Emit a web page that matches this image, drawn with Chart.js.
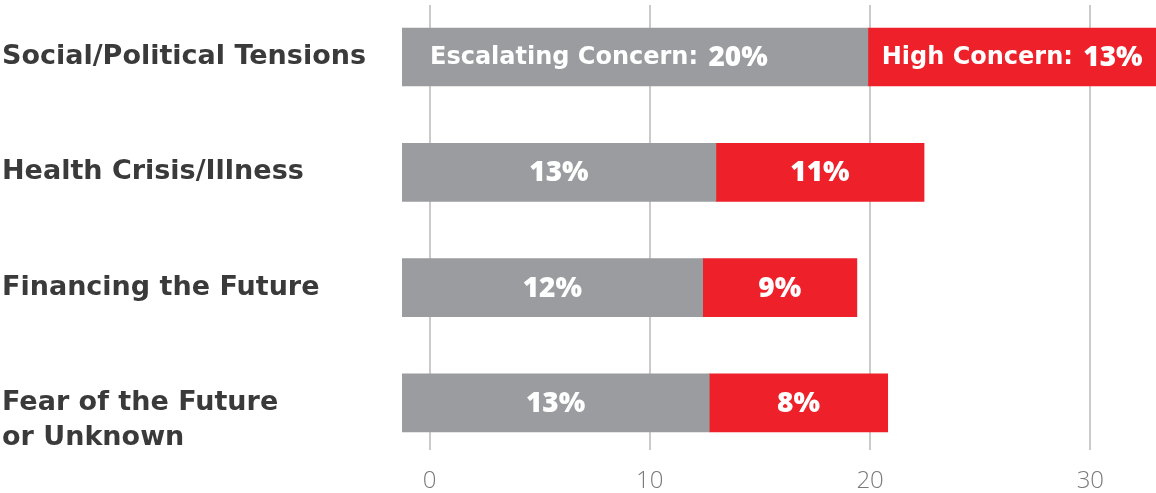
<!DOCTYPE html>
<html lang="en">
<head>
  <meta charset="UTF-8">
  <title>Concerns</title>
  <script src="https://cdn.jsdelivr.net/npm/chart.js"></script>
  <style>
    body { margin:0; background:#fff }
    .wrap { width:1156px; height:493px }
  </style>
</head>
<body>
  <div class="wrap"><canvas id="c" width="1156" height="493"></canvas></div>
  <script>
    // categories (last one wraps; blank first line keeps "Fear of the Future" level with its bar)
    const categories = [
      "Social/Political Tensions",
      "Health Crisis/Illness",
      "Financing the Future",
      ["", "Fear of the Future", "or Unknown"]
    ];
    // printed percentages
    const escalatingPct = [20, 13, 12, 13];
    const highPct = [13, 11, 9, 8];
    // bar extents as drawn, in axis units
    const barStart = -1.25;
    const escalatingEnd = [19.9, 13.0, 12.4, 12.7];
    const highEnd = [33.0, 22.45, 19.4, 20.8];
    const xTicks = [0, 10, 20, 30];

    const GREY = "#9b9c9f", RED = "#ee2029";
    const FONT = "'Open Sans', sans-serif";
    const WIDE = "'DejaVu Sans', sans-serif";

    const barLabels = {
      id: "barLabels",
      afterDatasetsDraw(chart) {
        const ctx = chart.ctx;
        ctx.save();
        ctx.fillStyle = "#fff";
        ctx.textBaseline = "middle";
        chart.data.datasets.forEach((ds, di) => {
          const meta = chart.getDatasetMeta(di);
          meta.data.forEach((bar, i) => {
            const cx = (bar.x + bar.base) / 2, cy = bar.y + 1;
            const val = ds.pct[i] + "%";
            ctx.font = "800 28px " + FONT;
            if (i === 0) {
              const pre = ds.label + ": ";
              const vw = ctx.measureText(val).width;
              ctx.font = "bold 24px " + WIDE;
              const pw = ctx.measureText(pre).width + 2;
              let x0 = cx - (pw + vw) / 2;
              if (di === 0) x0 = bar.base + 28;
              ctx.textAlign = "left";
              ctx.fillText(pre, x0, cy);
              ctx.font = "800 28px " + FONT;
              ctx.fillText(val, x0 + pw, cy);
            } else {
              ctx.textAlign = "center";
              ctx.fillText(val, cx, cy);
            }
          });
        });
        ctx.restore();
      }
    };

    const rows = categories.map((c, i) => i);

    new Chart(document.getElementById("c"), {
      type: "bar",
      data: {
        datasets: [
          {
            label: "Escalating Concern",
            pct: escalatingPct,
            data: rows.map(i => ({ y: i, x: [barStart, escalatingEnd[i]] })),
            backgroundColor: GREY,
            grouped: false,
            barThickness: 58
          },
          {
            label: "High Concern",
            pct: highPct,
            data: rows.map(i => ({ y: i, x: [escalatingEnd[i], highEnd[i]] })),
            backgroundColor: RED,
            grouped: false,
            barThickness: 58
          }
        ]
      },
      options: {
        indexAxis: "y",
        responsive: false,
        animation: false,
        layout: { padding: { left: 2, top: 5, right: 0, bottom: 0 } },
        plugins: { legend: { display: false }, tooltip: { enabled: false } },
        scales: {
          x: {
            type: "linear",
            min: barStart,
            max: 32.98,
            afterBuildTicks: s => { s.ticks = xTicks.map(v => ({ value: v })); },
            afterFit: s => { s.height = 43; s.paddingLeft = 0; s.paddingRight = 0; },
            border: { display: false },
            grid: { color: "#cacaca", lineWidth: 2, drawTicks: false },
            ticks: { color: "#7a7a7a", padding: 17, font: { family: FONT, size: 24, weight: 300 } }
          },
          y: {
            type: "linear",
            reverse: true,
            offset: false,
            min: -0.451,
            max: 3.408,
            afterBuildTicks: s => { s.ticks = rows.map(v => ({ value: v })); },
            afterFit: s => { s.width = 400; s.paddingTop = 0; s.paddingBottom = 0; },
            border: { display: false },
            grid: { display: false },
            ticks: {
              autoSkip: false,
              crossAlign: "far",
              color: "#3a3a3a",
              padding: 0,
              callback: v => categories[v],
              font: { family: WIDE, size: 27, weight: "bold", lineHeight: 1.3 }
            }
          }
        }
      },
      plugins: [barLabels]
    });
  </script>
</body>
</html>
